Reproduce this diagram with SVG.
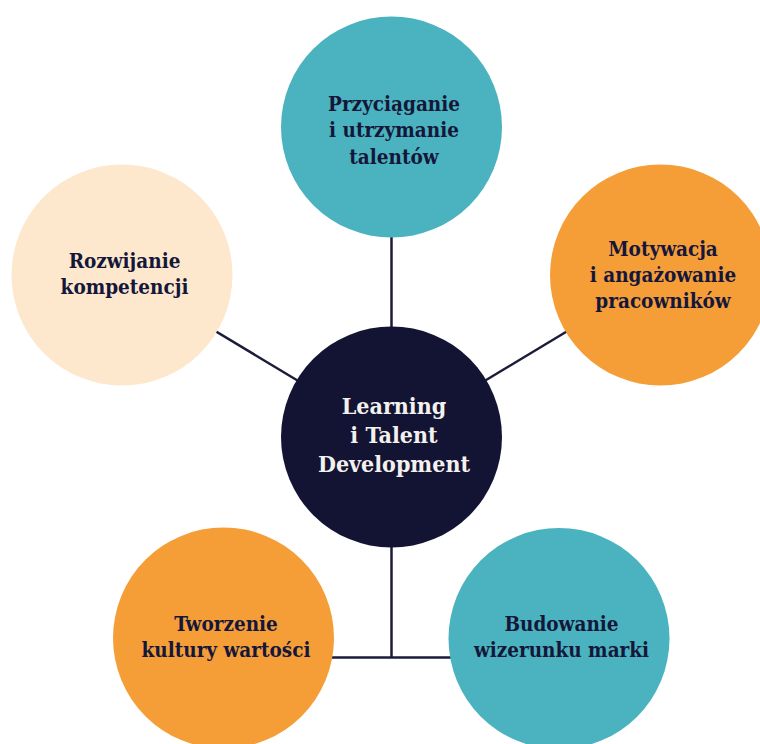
<svg xmlns="http://www.w3.org/2000/svg" width="760" height="744" viewBox="0 0 760 744">
  <style>
    .link { stroke: #1b1b3a; stroke-width: 2.5; fill: none; }
    .label { font-family: "DejaVu Serif Condensed", "DejaVu Serif", serif; font-stretch: condensed; font-weight: bold; font-size: 20.5px; fill: #15173a; text-anchor: middle; }
    .hub-label { font-family: "DejaVu Serif Condensed", "DejaVu Serif", serif; font-stretch: condensed; font-weight: bold; font-size: 23px; fill: #f3f1ee; text-anchor: middle; }
    .teal { fill: #4ab3bf; }
    .orange { fill: #f59e38; }
    .peach { fill: #fde8cd; }
    .navy { fill: #131433; }
  </style>
  <rect width="760" height="744" fill="#ffffff"/>

  <!-- connectors from the hub to each topic -->
  <g id="connectors">
    <line class="link" x1="391.5" y1="127" x2="391.5" y2="437"/>
    <line class="link" x1="122" y1="275" x2="391.5" y2="437"/>
    <line class="link" x1="660.5" y1="275" x2="391.5" y2="437"/>
    <polyline class="link" points="391.5,437 391.5,657.5"/>
    <line class="link" x1="223.5" y1="657.5" x2="559" y2="657.5"/>
  </g>

  <g id="node-przyciaganie">
    <circle class="teal" cx="391.5" cy="127" r="110.5"/>
    <text class="label" x="394" y="110.5">Przyciąganie</text>
    <text class="label" x="394" y="137">i utrzymanie</text>
    <text class="label" x="394" y="163.5">talentów</text>
  </g>

  <g id="node-motywacja">
    <circle class="orange" cx="660.5" cy="275" r="110.5"/>
    <text class="label" x="663" y="255.5">Motywacja</text>
    <text class="label" x="663" y="282">i angażowanie</text>
    <text class="label" x="663" y="308">pracowników</text>
  </g>

  <g id="node-rozwijanie">
    <circle class="peach" cx="122" cy="275" r="110.5"/>
    <text class="label" x="124.5" y="268">Rozwijanie</text>
    <text class="label" x="124.5" y="294">kompetencji</text>
  </g>

  <g id="node-hub">
    <circle class="navy" cx="391.5" cy="437" r="110.5"/>
    <text class="hub-label" x="394" y="414">Learning</text>
    <text class="hub-label" x="394" y="443">i Talent</text>
    <text class="hub-label" x="394" y="472">Development</text>
  </g>

  <g id="node-tworzenie">
    <circle class="orange" cx="223.5" cy="638" r="110.5"/>
    <text class="label" x="226" y="631">Tworzenie</text>
    <text class="label" x="226" y="657">kultury wartości</text>
  </g>

  <g id="node-budowanie">
    <circle class="teal" cx="559" cy="638.5" r="110.5"/>
    <text class="label" x="561.5" y="631">Budowanie</text>
    <text class="label" x="561.5" y="657">wizerunku marki</text>
  </g>
</svg>
